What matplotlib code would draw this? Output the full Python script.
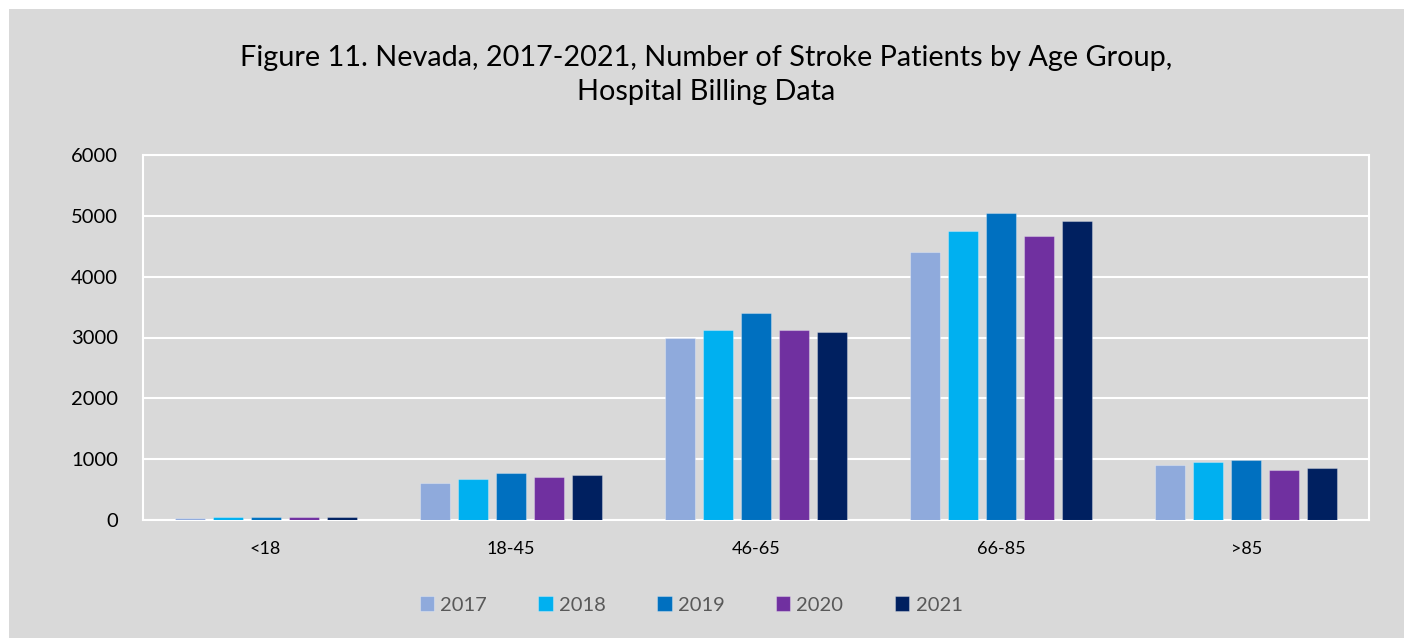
import numpy as np
import matplotlib
matplotlib.use('Agg')
import matplotlib.pyplot as plt
from matplotlib.patches import Rectangle

plt.rcParams['font.family'] = ['Lato', 'DejaVu Sans']

age_groups = ['<18', '18-45', '46-65', '66-85', '>85']
years = ['2017', '2018', '2019', '2020', '2021']
patients = {
    '2017': [35, 610, 3000, 4400, 905],
    '2018': [50, 680, 3130, 4750, 950],
    '2019': [55, 775, 3410, 5050, 980],
    '2020': [50, 705, 3120, 4675, 815],
    '2021': [50, 745, 3090, 4915, 855],
}
colors = ['#8FAADC', '#00B0F0', '#0070C0', '#7030A0', '#002060']

W, H = 1414, 638
fig = plt.figure(figsize=(W / 100, H / 100), dpi=100)
fig.patch.set_facecolor('white')
bg = '#D9D9D9'
fig.patches.append(Rectangle((9 / W, 0), (1404 - 9) / W, (H - 9) / H,
                             transform=fig.transFigure, facecolor=bg,
                             edgecolor='none', zorder=-10))

ax = fig.add_axes([143 / W, (H - 520) / H, (1369 - 143) / W, (520 - 155) / H])
ax.set_facecolor(bg)

x = np.arange(len(age_groups))
width = 0.122
step = 0.155
bars = []
for i, yr in enumerate(years):
    b = ax.bar(x + (i - 2) * step, patients[yr], width, color=colors[i],
               edgecolor=(1, 1, 1, 0.3), linewidth=0.8, label=yr, zorder=3)
    bars.append(b)

ax.set_xlim(-0.5, len(age_groups) - 0.5)
ax.set_ylim(0, 6000)
ax.set_yticks(range(0, 6001, 1000))
ax.set_xticks(x)
ax.set_xticklabels(age_groups)
ax.tick_params(axis='y', length=0, pad=18, labelsize=14.5, labelcolor='#000000')
ax.tick_params(axis='x', length=0, pad=15, labelsize=13, labelcolor='#000000')
ax.grid(axis='y', color='white', linewidth=1.5, zorder=1)
for s in ax.spines.values():
    s.set_color('white')
    s.set_linewidth(1.5)

fig.text(0.4997, 1 - 75 / H,
         'Figure 11. Nevada, 2017-2021, Number of Stroke Patients by Age Group,\nHospital Billing Data',
         ha='center', va='center', fontsize=20.8, linespacing=1.42, color='#000000')

leg = fig.legend(handles=bars, labels=years, loc='center',
                 bbox_to_anchor=(691 / W, 1 - 605 / H), ncol=5, frameon=False,
                 handlelength=0.7, handleheight=0.7, handletextpad=0.3,
                 columnspacing=2.58, fontsize=14.5)
for t in leg.get_texts():
    t.set_color('#595959')

fig.savefig('out.png', dpi=100, facecolor=fig.get_facecolor())
